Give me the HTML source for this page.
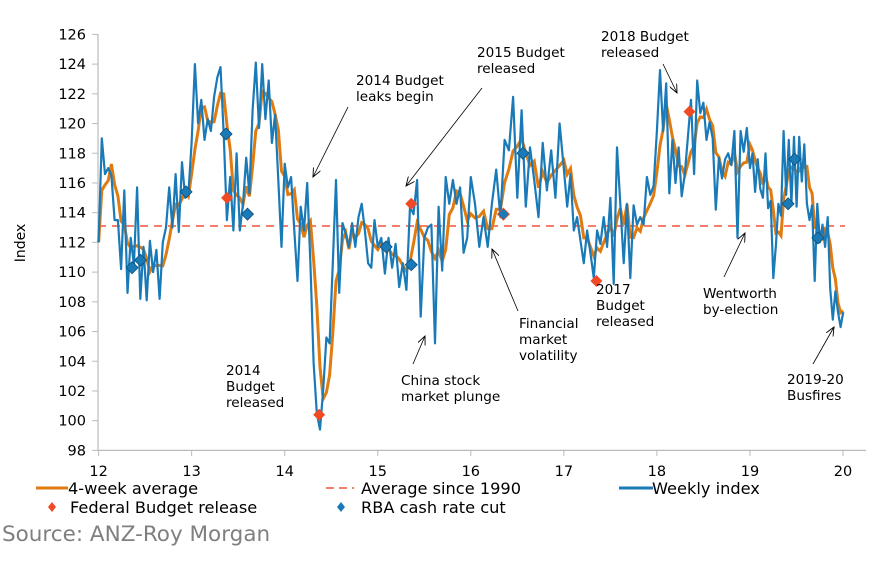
<!DOCTYPE html>
<html><head><meta charset="utf-8"><style>
body{margin:0;background:#fff;}
svg{display:block;font-family:"DejaVu Sans","Liberation Sans",sans-serif;}
</style></head><body>
<svg id="chart" width="879" height="569" viewBox="0 0 879 569">
<defs><marker id="ah" markerWidth="10" markerHeight="8" refX="9" refY="4" orient="auto" markerUnits="userSpaceOnUse"><path d="M0 0 L9 4 L0 8" fill="none" stroke="#000" stroke-width="0.9"/></marker></defs>
<g id="axes"></g>
<line x1="98" y1="226" x2="845" y2="226" stroke="#f4806c" stroke-width="2" stroke-dasharray="8,6" id="avgline"/>
<path id="avg4" fill="none" stroke="#e07b12" stroke-width="3"/>
<path id="weekly" fill="none" stroke="#1a7ab8" stroke-width="2.2" stroke-linejoin="round"/>
<g id="markers"></g>
<g font-size="13.6" fill="#000">
<text x="356" y="85"><tspan x="356">2014 Budget</tspan><tspan x="356" dy="16">leaks begin</tspan></text>
<line x1="348" y1="107" x2="313" y2="177" stroke="#000" stroke-width="0.8" marker-end="url(#ah)"/>
<text x="477" y="57"><tspan x="477">2015 Budget</tspan><tspan x="477" dy="16">released</tspan></text>
<line x1="482" y1="88" x2="406" y2="186" stroke="#000" stroke-width="0.8" marker-end="url(#ah)"/>
<text x="601" y="41"><tspan x="601">2018 Budget</tspan><tspan x="601" dy="16">released</tspan></text>
<line x1="663" y1="64" x2="677" y2="93" stroke="#000" stroke-width="0.8" marker-end="url(#ah)"/>
<text x="226" y="375"><tspan x="226">2014</tspan><tspan x="226" dy="16">Budget</tspan><tspan x="226" dy="16">released</tspan></text>
<text x="401" y="385"><tspan x="401">China stock</tspan><tspan x="401" dy="16">market plunge</tspan></text>
<line x1="413" y1="364" x2="425" y2="336" stroke="#000" stroke-width="0.8" marker-end="url(#ah)"/>
<text x="519" y="328"><tspan x="519">Financial</tspan><tspan x="519" dy="16">market</tspan><tspan x="519" dy="16">volatility</tspan></text>
<line x1="518" y1="311" x2="492" y2="249" stroke="#000" stroke-width="0.8" marker-end="url(#ah)"/>
<text x="596" y="294"><tspan x="596">2017</tspan><tspan x="596" dy="16">Budget</tspan><tspan x="596" dy="16">released</tspan></text>
<text x="703" y="298"><tspan x="703">Wentworth</tspan><tspan x="703" dy="16">by-election</tspan></text>
<line x1="724" y1="277" x2="745" y2="233" stroke="#000" stroke-width="0.8" marker-end="url(#ah)"/>
<text x="787" y="384"><tspan x="787">2019-20</tspan><tspan x="787" dy="16">Busfires</tspan></text>
<line x1="813" y1="364" x2="834" y2="327" stroke="#000" stroke-width="0.8" marker-end="url(#ah)"/>
</g>
<text x="25" y="243" font-size="14" text-anchor="middle" transform="rotate(-90 25 243)">Index</text>
<g font-size="16.2">
<g><line x1="36" y1="488" x2="68" y2="488" stroke="#e07b12" stroke-width="3"/><text x="68" y="494">4-week average</text></g>
<g><line x1="326" y1="488" x2="354" y2="488" stroke="#f4806c" stroke-width="2" stroke-dasharray="8,5"/><text x="361" y="494">Average since 1990</text></g>
<g><line x1="619" y1="488" x2="653" y2="488" stroke="#1a7ab8" stroke-width="3"/><text x="652" y="494">Weekly index</text></g>
<g><path d="M52 502 L56 507 L52 512 L48 507Z" fill="#f04a24"/><text x="70" y="513">Federal Budget release</text></g>
<g><path d="M341 502 L345 507 L341 512 L337 507Z" fill="#1a7ab8"/><text x="361" y="513">RBA cash rate cut</text></g>
</g>
<text x="2" y="541" font-size="21.5" fill="#7f7f7f">Source: ANZ-Roy Morgan</text>
</svg>
<script>
const yTicks=[98,100,102,104,106,108,110,112,114,116,118,120,122,124,126];
const xTicks=[12,13,14,15,16,17,18,19,20];
const averageSince1990=113.1;
const weekly12=[112,119,116.6,117,116.5,113.5,113.5,110.2,115.5,108.6,112.3,110.5,115.7,108.2,111.7,108.1,112.1,110,111.5,108.2,112,113,115.7,113,116.6,112.7,117.4,115,115.3];
const weekly13=[118.7,124,120,121.6,118.9,120.3,119.5,121.8,123.1,123.8,119.3,113.5,116.4,112.8,118,112.8,114.6,117.7,115.3,120.9,124.1,119.7,124,120.3,122.9,118.7,120.6,116.2,111.7];
const weekly14=[117.3,115.7,116.4,112.8,109.4,114.4,112.8,116,110.6,103.9,100.5,99.4,102.1,105.6,105.2,110.6,116.2,108.6,113.3,112.6,111.7,113.3,111.7,113.7,114.6,112.8,110.6,110.3,113.5];
const weekly15=[111.7,112.3,109.9,112.3,110.3,111.9,109,110.6,108.8,114.4,113.9,116.2,107,112.3,113,113.2,105.2,114.4,110.1,116.4,114.6,116.2,114.6,115.7,111.3,112.3];
const weekly16=[116.4,114.6,111.7,113.7,111.7,114.6,116.9,113.7,118.9,118.2,121.8,115,120.9,114.4,118.4,116.2,113.7,118.7,115.5,118.2,115,120];
const weekly17=[116.9,114.4,116.6,112.8,113.7,112.1,110.6,112.8,111.3,109.6,112.8,111.9,113.7,111.7,115,109.2,118.4,114.6,110.6,114.6,109.6,114.5,113.2,113.7,113.2,116.4,115.2,115.8];
const weekly18=[119.5,123.6,119.5,122.7,115.3,118.9,116,118.4,115.1,116.6,119.1,121.6,116.6,122.9,120.7,121.4,118.9,120.1,119,114.2,117.7,116.3,117.6,118,117.2,119.5,112.3,119.5,118.1,119.7];
const weekly19=[117,118,115.4,117.6,115.6,115,118,114.3,114.8,109.6,111.8,114.6,113.8,119.5,115.2,118.9,114.6,119.1,114.4,119.1,116.1,118.6,114.6,113.5,114.5,109.4,114.6,112,113.2,111.7,113.7,108.9,106.8,108.7,107.3,106.3,107.3];
const budgetDates=[13.38,14.37,15.36,17.35,18.35];
const budgetValues=[115,100.4,114.6,109.4,120.8];
const rbaDates=[12.36,12.45,12.94,13.37,13.6,15.09,15.36,16.35,16.56,19.41,19.48,19.73];
const rbaValues=[110.3,110.8,115.4,119.3,113.9,111.7,110.5,113.9,118,114.6,117.6,112.3];

const X=t=>98.6+(t-12)*93.05;
const Y=v=>450.4-(v-98)*14.857;
const NS='http://www.w3.org/2000/svg';
const axes=document.getElementById('axes');
function mk(tag,attrs,parent){const e=document.createElementNS(NS,tag);for(const k in attrs)e.setAttribute(k,attrs[k]);parent.appendChild(e);return e;}
mk('line',{x1:98,y1:34,x2:98,y2:450.4,stroke:'#bbb','stroke-width':1.2},axes);
mk('line',{x1:98,y1:450.4,x2:866,y2:450.4,stroke:'#bbb','stroke-width':1.2},axes);
yTicks.forEach(v=>{
  mk('line',{x1:92,y1:Y(v),x2:98,y2:Y(v),stroke:'#bbb'},axes);
  const t=mk('text',{x:86,y:Y(v)+5,'font-size':14.5,'text-anchor':'end'},axes);
  
  
  t.textContent=v;
});
xTicks.forEach(v=>{
  mk('line',{x1:X(v),y1:450.4,x2:X(v),y2:456,stroke:'#bbb'},axes);
  const t=mk('text',{x:X(v),y:476,'font-size':14.5,'text-anchor':'middle'},axes);
  
  
  t.textContent=v;
});
document.getElementById('avgline').setAttribute('y1',Y(averageSince1990));
document.getElementById('avgline').setAttribute('y2',Y(averageSince1990));
const years=[weekly12,weekly13,weekly14,weekly15,weekly16,weekly17,weekly18,weekly19];
const pts=[];
years.forEach((arr,i)=>{const span=i===7?1.03:1;arr.forEach((v,j)=>pts.push([12+i+span*j/arr.length,v]));});
document.getElementById('weekly').setAttribute('d',pts.map((p,i)=>(i?'L':'M')+X(p[0]).toFixed(1)+' '+Y(p[1]).toFixed(1)).join(''));
const avg=pts.map((p,i)=>{const s=pts.slice(Math.max(0,i-3),i+1);return [p[0],s.reduce((a,b)=>a+b[1],0)/s.length];});
document.getElementById('avg4').setAttribute('d',avg.map((p,i)=>(i?'L':'M')+X(p[0]).toFixed(1)+' '+Y(p[1]).toFixed(1)).join(''));
const mg=document.getElementById('markers');
rbaDates.forEach((d,i)=>{const x=X(d),y=Y(rbaValues[i]);
  const m=mk('path',{d:`M${x} ${y-6}L${x+6} ${y}L${x} ${y+6}L${x-6} ${y}Z`,fill:'#1a7ab8',stroke:(d===16.35?'#f04a24':'#0d4f7a'),'stroke-width':0.8},mg);
  
  
});
budgetDates.forEach((d,i)=>{const x=X(d),y=Y(budgetValues[i]);
  const m=mk('path',{d:`M${x} ${y-6}L${x+6} ${y}L${x} ${y+6}L${x-6} ${y}Z`,fill:'#f04a24'},mg);
  
  
});
</script>
</body></html>
